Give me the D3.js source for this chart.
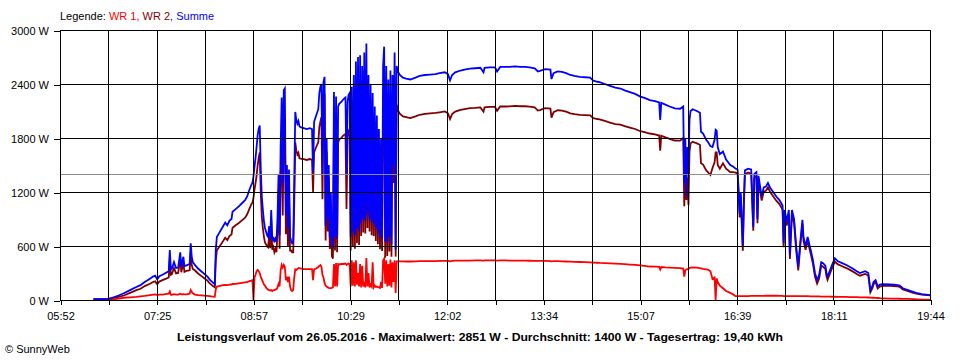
<!DOCTYPE html>
<html><head><meta charset="utf-8">
<script src="https://cdn.jsdelivr.net/npm/d3@7"></script>
<style>html,body{margin:0;padding:0;background:#fff;}svg{display:block;}</style>
</head><body><svg id="chart" width="960" height="360"></svg>
<script>
// time of each sample, minutes after midnight (05:52 = 352, 19:44 = 1184)
const timeMinutes = [
384,390,398,402,408,413,419,425,429,433,
438,441,443,445,447,450,453,456,457,458,
459,461,463,465,467,468,470,471,473,476,
477,478,479,481,484,487,490,493,495,498,
500,501,502,504,506,508,510,512,514,516,
517,520,523,526,529,531,533,535,
536,537,538,539,540,541,542,543,544,545,
546,547,548,549,550,551,552,553,554,555,
556,557,558,559,560,561,562,563,564,565,
566,567,568,569,570,571,572,573,574,575,
576,577,578,579,580,581,582,
585,588,591,593,594,595,597,599,
600,601,602,603,604,605,606,607,608,609,
610,611,612,613,614,615,616,617,618,619,
621,623,625,
626,627,628,629,630,631,632,633,634,635,
636,637,638,639,640,641,642,643,644,645,
646,647,648,649,650,651,652,653,654,655,
656,657,658,659,660,661,662,663,664,665,
666,667,668,669,670,671,672,673,674,675,
677,680,683,687,692,696,701,706,711,715,
720,723,725,727,730,735,739,744,749,754,
757,758,763,768,770,773,778,782,787,792,
797,801,806,809,811,816,821,822,824,828,
832,836,840,844,849,854,859,862,866,868,
873,878,883,888,892,897,902,907,911,916,
921,925,926,927,931,935,940,945,948,949,
950,951,952,953,954,955,957,961,964,965,
967,970,972,974,976,978,979,980,981,983,
986,989,993,996,998,1000,1002,1003,1004,1005,
1006,1007,1010,1013,1015,1016,1018,1019,1020,1021,
1023,1025,1027,1029,1031,1034,1037,1040,1043,1044,
1045,1047,1049,1050,1052,1054,1056,1058,1060,1062,
1063,1065,1067,1070,1072,1074,1076,1078,1080,1082,
1084,1085,1086,1088,1090,1093,1096,1100,1104,1107,
1110,1114,1117,1122,1125,1127,1129,1130,1132,1134,
1136,1139,1146,1152,1155,1158,1163,1168,1172,1176,
1184
];
// WR 1 (W)
const wr1 = [
0,0,2,5,15,25,30,35,40,45,
55,60,63,55,60,60,65,70,95,60,
58,65,60,60,70,62,65,62,62,70,
110,90,75,60,55,52,48,45,42,38,
35,120,150,155,160,165,168,165,170,172,
178,180,185,190,195,198,210,215,
220,0,250,280,320,335,320,300,260,230,
200,175,160,140,125,115,110,105,110,100,
110,110,115,120,140,180,150,330,390,360,
390,370,220,260,200,260,150,110,100,110,
250,340,335,345,355,355,350,
344,344,344,344,220,340,350,367,
380,389,370,280,250,190,160,150,140,135,
133,133,135,140,400,150,410,150,400,395,
400,400,405,
390,400,405,400,150,440,160,420,150,440,
170,300,150,400,140,380,150,200,140,467,
150,300,140,170,150,420,140,160,145,150,
140,140,135,200,135,440,460,180,440,150,
400,160,450,140,420,200,440,78,430,430,
430,430,428,428,430,432,432,432,432,435,
435,435,430,435,437,437,438,438,440,440,
438,440,440,440,438,440,440,438,438,437,
437,436,435,435,435,434,433,430,432,432,
430,428,426,424,422,420,418,416,414,412,
410,408,405,402,398,394,390,385,380,372,
370,368,340,366,362,360,358,355,350,259,
330,340,340,345,355,360,362,360,355,350,
345,340,335,320,233,250,0,240,200,160,
130,100,80,60,44,42,42,42,42,42,
42,44,44,45,45,45,46,46,46,46,
46,46,47,47,47,47,47,45,45,44,
44,44,44,43,43,43,43,42,42,42,
42,42,42,40,40,40,40,40,38,38,
38,38,37,37,36,36,35,35,34,33,
32,31,30,30,28,26,25,25,24,22,
20,18,15,15,14,13,12,10,8,5,
3
];
// WR 2 (W)
const wr2 = [
10,10,10,20,35,50,80,110,125,155,
180,200,207,175,205,220,235,250,460,280,
287,355,295,300,460,308,415,313,323,330,
520,390,345,330,295,268,242,215,188,157,
140,440,550,585,620,655,692,665,710,728,
802,830,855,885,915,952,1010,1065,
1080,1130,1230,1300,1380,1495,1580,1640,1190,920,
800,705,640,620,595,585,710,575,890,560,
590,530,565,530,760,1220,570,1370,1860,940,
1940,1980,730,1240,600,1190,550,550,530,530,
1050,1750,1665,1615,1635,1575,1570,
1566,1556,1566,1556,1200,1640,1700,1753,
1920,1981,2030,1120,2170,2290,660,1650,760,1365,
567,1067,485,460,1910,550,1850,530,1750,1785,
1800,1830,1845,
1010,1800,1875,1900,550,1930,590,2080,570,2210,
630,2400,610,2320,710,2220,750,2550,740,2384,
800,2200,760,2230,720,1880,710,1990,655,1900,
620,1760,565,1600,545,2160,2355,470,2160,490,
2050,540,2100,480,2080,1300,2310,482,2170,2110,
2070,2040,2032,2022,2040,2058,2068,2073,2078,2085,
2095,2075,2010,2065,2093,2113,2122,2132,2135,2140,
2092,2140,2145,2145,2102,2150,2150,2152,2157,2153,
2153,2149,2140,2105,2110,2131,2127,2025,2088,2108,
2105,2092,2074,2066,2058,2055,2052,2021,2011,2008,
1990,1972,1955,1948,1932,1916,1900,1875,1865,1850,
1840,1827,1660,1824,1808,1790,1772,1770,1800,1041,
1470,1111,1360,1055,1645,1740,1758,1740,1725,1520,
1505,1440,1415,1390,1467,1530,1640,1640,1500,1460,
1520,1460,1420,1420,1416,1408,918,1158,838,548,
1058,1396,1416,1405,770,1355,1374,854,1334,1254,
1104,1204,1213,1253,1203,1153,1103,1065,1005,586,
956,826,956,457,957,857,557,328,608,848,
658,558,658,510,404,260,182,240,382,369,
342,262,222,283,344,427,395,375,355,337,
318,289,270,290,272,85,135,175,198,128,
150,157,157,153,146,117,98,80,67,60,
52
];
// Summe (W)
const summe = [
10,10,12,25,50,75,110,145,165,200,
235,260,270,230,265,280,300,320,555,340,
345,420,355,360,530,370,480,375,385,400,
630,480,420,390,350,320,290,260,230,195,
175,560,700,740,780,820,860,830,880,900,
980,1010,1040,1075,1110,1150,1220,1280,
1300,1370,1480,1580,1700,1830,1900,1940,1450,1150,
1000,880,800,760,720,700,820,680,1000,660,
700,640,680,650,900,1400,720,1700,2250,1300,
2330,2350,950,1500,800,1450,700,660,630,640,
1300,2090,2000,1960,1990,1930,1920,
1910,1900,1910,1900,1420,1980,2050,2120,
2300,2370,2400,1400,2420,2480,820,1800,900,1500,
700,1200,620,600,2310,700,2260,680,2150,2180,
2200,2230,2250,
1400,2200,2280,2300,700,2370,750,2500,720,2650,
800,2700,760,2720,850,2600,900,2750,880,2851,
950,2500,900,2400,870,2300,850,2150,800,2050,
760,1900,700,1800,680,2600,2815,650,2600,640,
2450,700,2550,620,2500,1500,2750,560,2600,2540,
2500,2470,2460,2450,2470,2490,2500,2505,2510,2520,
2530,2510,2440,2500,2530,2550,2560,2570,2575,2580,
2530,2580,2585,2585,2540,2590,2590,2590,2595,2590,
2590,2585,2575,2540,2545,2565,2560,2455,2520,2540,
2535,2520,2500,2490,2480,2475,2470,2437,2425,2420,
2400,2380,2360,2350,2330,2310,2290,2260,2245,2222,
2210,2195,2000,2190,2170,2150,2130,2125,2150,1300,
1800,1150,1700,1400,2000,2100,2120,2100,2080,1870,
1850,1780,1750,1710,1700,1780,1890,1880,1700,1620,
1650,1560,1500,1480,1460,1450,960,1200,880,590,
1100,1440,1460,1450,815,1400,1420,900,1380,1300,
1150,1250,1260,1300,1250,1200,1150,1110,1050,630,
1000,870,1000,500,1000,900,600,370,650,890,
700,600,700,550,444,300,222,280,420,407,
380,300,259,320,380,463,430,410,389,370,
350,320,300,320,300,111,160,200,222,150,
170,175,172,168,160,130,110,90,75,65,
55
];
const yTickValues = [0, 600, 1200, 1800, 2400, 3000];
const xTickLabels = ["05:52","07:25","08:57","10:29","12:02","13:34","15:07","16:39","18:11","19:44"];
const timeStart = 352, timeEnd = 1184;
const averageW = 1400;
const legendParts = [
  {text: "Legende: ", color: "#000000"},
  {text: "WR 1, ", color: "#ff0000"},
  {text: "WR 2, ", color: "#800000"},
  {text: "Summe", color: "#0000ff"}
];
const titleText = "Leistungsverlauf vom 26.05.2016 - Maximalwert: 2851 W - Durchschnitt: 1400 W - Tagesertrag: 19,40 kWh";
const footerText = "\u00A9 SunnyWeb";

const FONT = "'Liberation Sans', Arial, sans-serif";
const svg = d3.select("#chart");
const x = d3.scaleLinear().domain([timeStart, timeEnd]).range([60, 930]);
const y = d3.scaleLinear().domain([0, 3000]).range([300, 30]);
const gridTimes = d3.range(19).map(i => timeStart + i * (timeEnd - timeStart) / 18);

// data lines
const series = [
  {values: wr1, color: "#ff0000"},
  {values: wr2, color: "#800000"},
  {values: summe, color: "#0000ff"}
];
const line = d3.line().x((d, i) => x(timeMinutes[i])).y(d => y(d));
svg.append("g").selectAll("path").data(series).join("path")
  .attr("d", s => line(s.values))
  .attr("fill", "none")
  .attr("stroke", s => s.color)
  .attr("stroke-width", 1.8)
  .attr("stroke-linejoin", "miter");

// average line
svg.append("line")
  .attr("x1", x(timeStart)).attr("x2", x(timeEnd))
  .attr("y1", Math.round(y(averageW)) + 0.5).attr("y2", Math.round(y(averageW)) + 0.5)
  .attr("stroke", "#8c8c8c").attr("stroke-width", 1).attr("shape-rendering", "crispEdges");

// grid
const grid = svg.append("g").attr("shape-rendering", "crispEdges");
grid.selectAll("line.v").data(gridTimes).join("line").attr("class", "v")
  .attr("x1", d => Math.round(x(d)) + 0.5).attr("x2", d => Math.round(x(d)) + 0.5)
  .attr("y1", y(3000)).attr("y2", y(0))
  .attr("stroke", "#000").attr("stroke-width", 1);
grid.selectAll("line.h").data(yTickValues).join("line").attr("class", "h")
  .attr("x1", x(timeStart)).attr("x2", x(timeEnd) + 1)
  .attr("y1", d => Math.round(y(d)) + 0.5).attr("y2", d => Math.round(y(d)) + 0.5)
  .attr("stroke", "#000").attr("stroke-width", 1);

// axes
const xAxis = d3.axisBottom(x).tickValues(gridTimes)
  .tickFormat((d, i) => i % 2 === 0 ? xTickLabels[i / 2] : "")
  .tickSize(5).tickPadding(7);
const gx = svg.append("g").attr("transform", "translate(0.5,300)").call(xAxis);
const yAxis = d3.axisLeft(y).tickValues(yTickValues).tickFormat(d => d + " W").tickSize(6).tickPadding(5);
const gy = svg.append("g").attr("transform", "translate(60,0.5)").call(yAxis);
[gx, gy].forEach(g => {
  g.select(".domain").remove();
  g.attr("font-family", FONT).attr("font-size", 11);
  g.selectAll(".tick line").attr("stroke", "#000").attr("shape-rendering", "crispEdges");
  g.selectAll(".tick text").attr("fill", "#000");
});

// legend
const legend = svg.append("text").attr("x", 60).attr("y", 20)
  .attr("font-family", FONT).attr("font-size", 11);
legend.selectAll("tspan").data(legendParts).join("tspan")
  .attr("fill", d => d.color).attr("xml:space", "preserve").text(d => d.text);

// title
svg.append("text").attr("x", 480).attr("y", 341).attr("text-anchor", "middle")
  .attr("font-family", FONT).attr("font-size", 11.5).attr("font-weight", "bold")
  .attr("textLength", 606).attr("lengthAdjust", "spacingAndGlyphs")
  .text(titleText);

// footer
svg.append("text").attr("x", 5).attr("y", 353)
  .attr("font-family", FONT).attr("font-size", 11)
  .text(footerText);
</script>
</body></html>
